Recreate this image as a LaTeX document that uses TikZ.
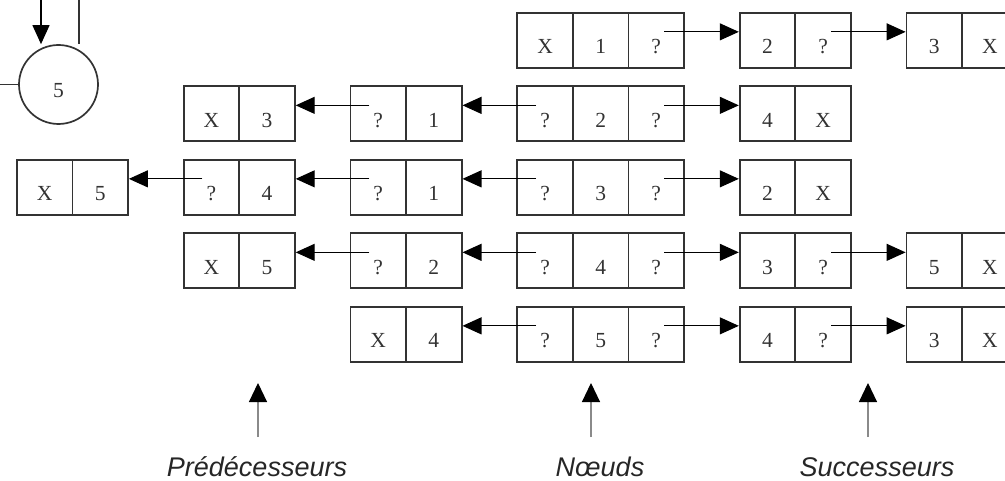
\documentclass[tikz,border=0pt]{standalone}
\usepackage{fontspec}
\setmainfont{Liberation Serif}
\newfontfamily\labelfont{Liberation Sans}
\usetikzlibrary{arrows.meta}
\definecolor{boxline}{HTML}{333333}
\definecolor{celltxt}{HTML}{333333}
\definecolor{upline}{HTML}{8A8A8A}
\newcommand\mycell[3]{\node[cell] (c#1-#2) at ({16+55.6*#2},{12+73.5*(#1-1)}) {#3};}
\begin{document}
\begin{tikzpicture}[x=1pt,y=-1pt,
  cell/.style={draw=boxline, line width=1.7pt, minimum width=55.6pt, minimum height=55pt,
    inner sep=0pt, anchor=north west, text=celltxt, font=\fontsize{21.5}{21.5}\selectfont,
    text height=27pt, text depth=0pt},
  ptr/.style={-{Triangle[length=19pt,width=17pt]}, line width=1.1pt, black},
  upptr/.style={-{Triangle[length=19pt,width=18pt,color=black]}, line width=1.1pt, upline},
  lbl/.style={anchor=base, font=\labelfont\itshape\fontsize{27}{27}\selectfont, text=black!85, inner sep=0pt},
  ring/.style={circle, draw=boxline, line width=1.7pt, minimum size=79pt, inner sep=0pt,
    text=celltxt, font=\fontsize{21.5}{21.5}\selectfont, text height=27pt, text depth=0pt}
]
\useasboundingbox (0,0) rectangle (1005,481);
\clip (0,0) rectangle (1005,481);

% circle
\node[ring] (circ) at (58.5,84.5) {5};
\coordinate (ctop) at (41,0);
\coordinate (ctop2) at (79,0);
\coordinate (cleft) at (0,84.5);
\draw[ptr] (ctop) -- (ctop |- circ.north);
\draw[line width=1.2pt, boxline] (ctop2) -- (ctop2 |- circ.north);
\draw[line width=1.2pt, boxline] (cleft) -- (circ.west);

% row 1
\mycell{1}{9}{X}\mycell{1}{10}{1}\mycell{1}{11}{?}
\mycell{1}{13}{2}\mycell{1}{14}{?}
\mycell{1}{16}{3}\mycell{1}{17}{X}
% row 2
\mycell{2}{3}{X}\mycell{2}{4}{3}
\mycell{2}{6}{?}\mycell{2}{7}{1}
\mycell{2}{9}{?}\mycell{2}{10}{2}\mycell{2}{11}{?}
\mycell{2}{13}{4}\mycell{2}{14}{X}
% row 3
\mycell{3}{0}{X}\mycell{3}{1}{5}
\mycell{3}{3}{?}\mycell{3}{4}{4}
\mycell{3}{6}{?}\mycell{3}{7}{1}
\mycell{3}{9}{?}\mycell{3}{10}{3}\mycell{3}{11}{?}
\mycell{3}{13}{2}\mycell{3}{14}{X}
% row 4
\mycell{4}{3}{X}\mycell{4}{4}{5}
\mycell{4}{6}{?}\mycell{4}{7}{2}
\mycell{4}{9}{?}\mycell{4}{10}{4}\mycell{4}{11}{?}
\mycell{4}{13}{3}\mycell{4}{14}{?}
\mycell{4}{16}{5}\mycell{4}{17}{X}
% row 5
\mycell{5}{6}{X}\mycell{5}{7}{4}
\mycell{5}{9}{?}\mycell{5}{10}{5}\mycell{5}{11}{?}
\mycell{5}{13}{4}\mycell{5}{14}{?}
\mycell{5}{16}{3}\mycell{5}{17}{X}

% right pointers
\foreach \a/\b in {1-11/1-13, 1-14/1-16, 2-11/2-13, 3-11/3-13, 4-11/4-13, 4-14/4-16, 5-11/5-13, 5-14/5-16}
  \draw[ptr] ([xshift=8pt,yshift=8.5pt]c\a.center) -- ([yshift=8.5pt]c\b.west);
% left pointers
\foreach \a/\b in {2-9/2-7, 2-6/2-4, 3-9/3-7, 3-6/3-4, 3-3/3-1, 4-9/4-7, 4-6/4-4, 5-9/5-7}
  \draw[ptr] ([xshift=-9pt,yshift=8.5pt]c\a.center) -- ([yshift=8.5pt]c\b.east);

% labels
\node[lbl] (pred) at (257,476) {Prédécesseurs};
\node[lbl] (noeu) at (600,476) {Nœuds};
\node[lbl] (succ) at (877,476) {Successeurs};
\coordinate (pb) at (258,437); \coordinate (pt) at (258,383);
\coordinate (nb) at (591,437); \coordinate (nt) at (591,383);
\coordinate (sb) at (868,437); \coordinate (st) at (868,383);
\draw[upptr] (pb) -- (pt);
\draw[upptr] (nb) -- (nt);
\draw[upptr] (sb) -- (st);
\end{tikzpicture}
\end{document}
